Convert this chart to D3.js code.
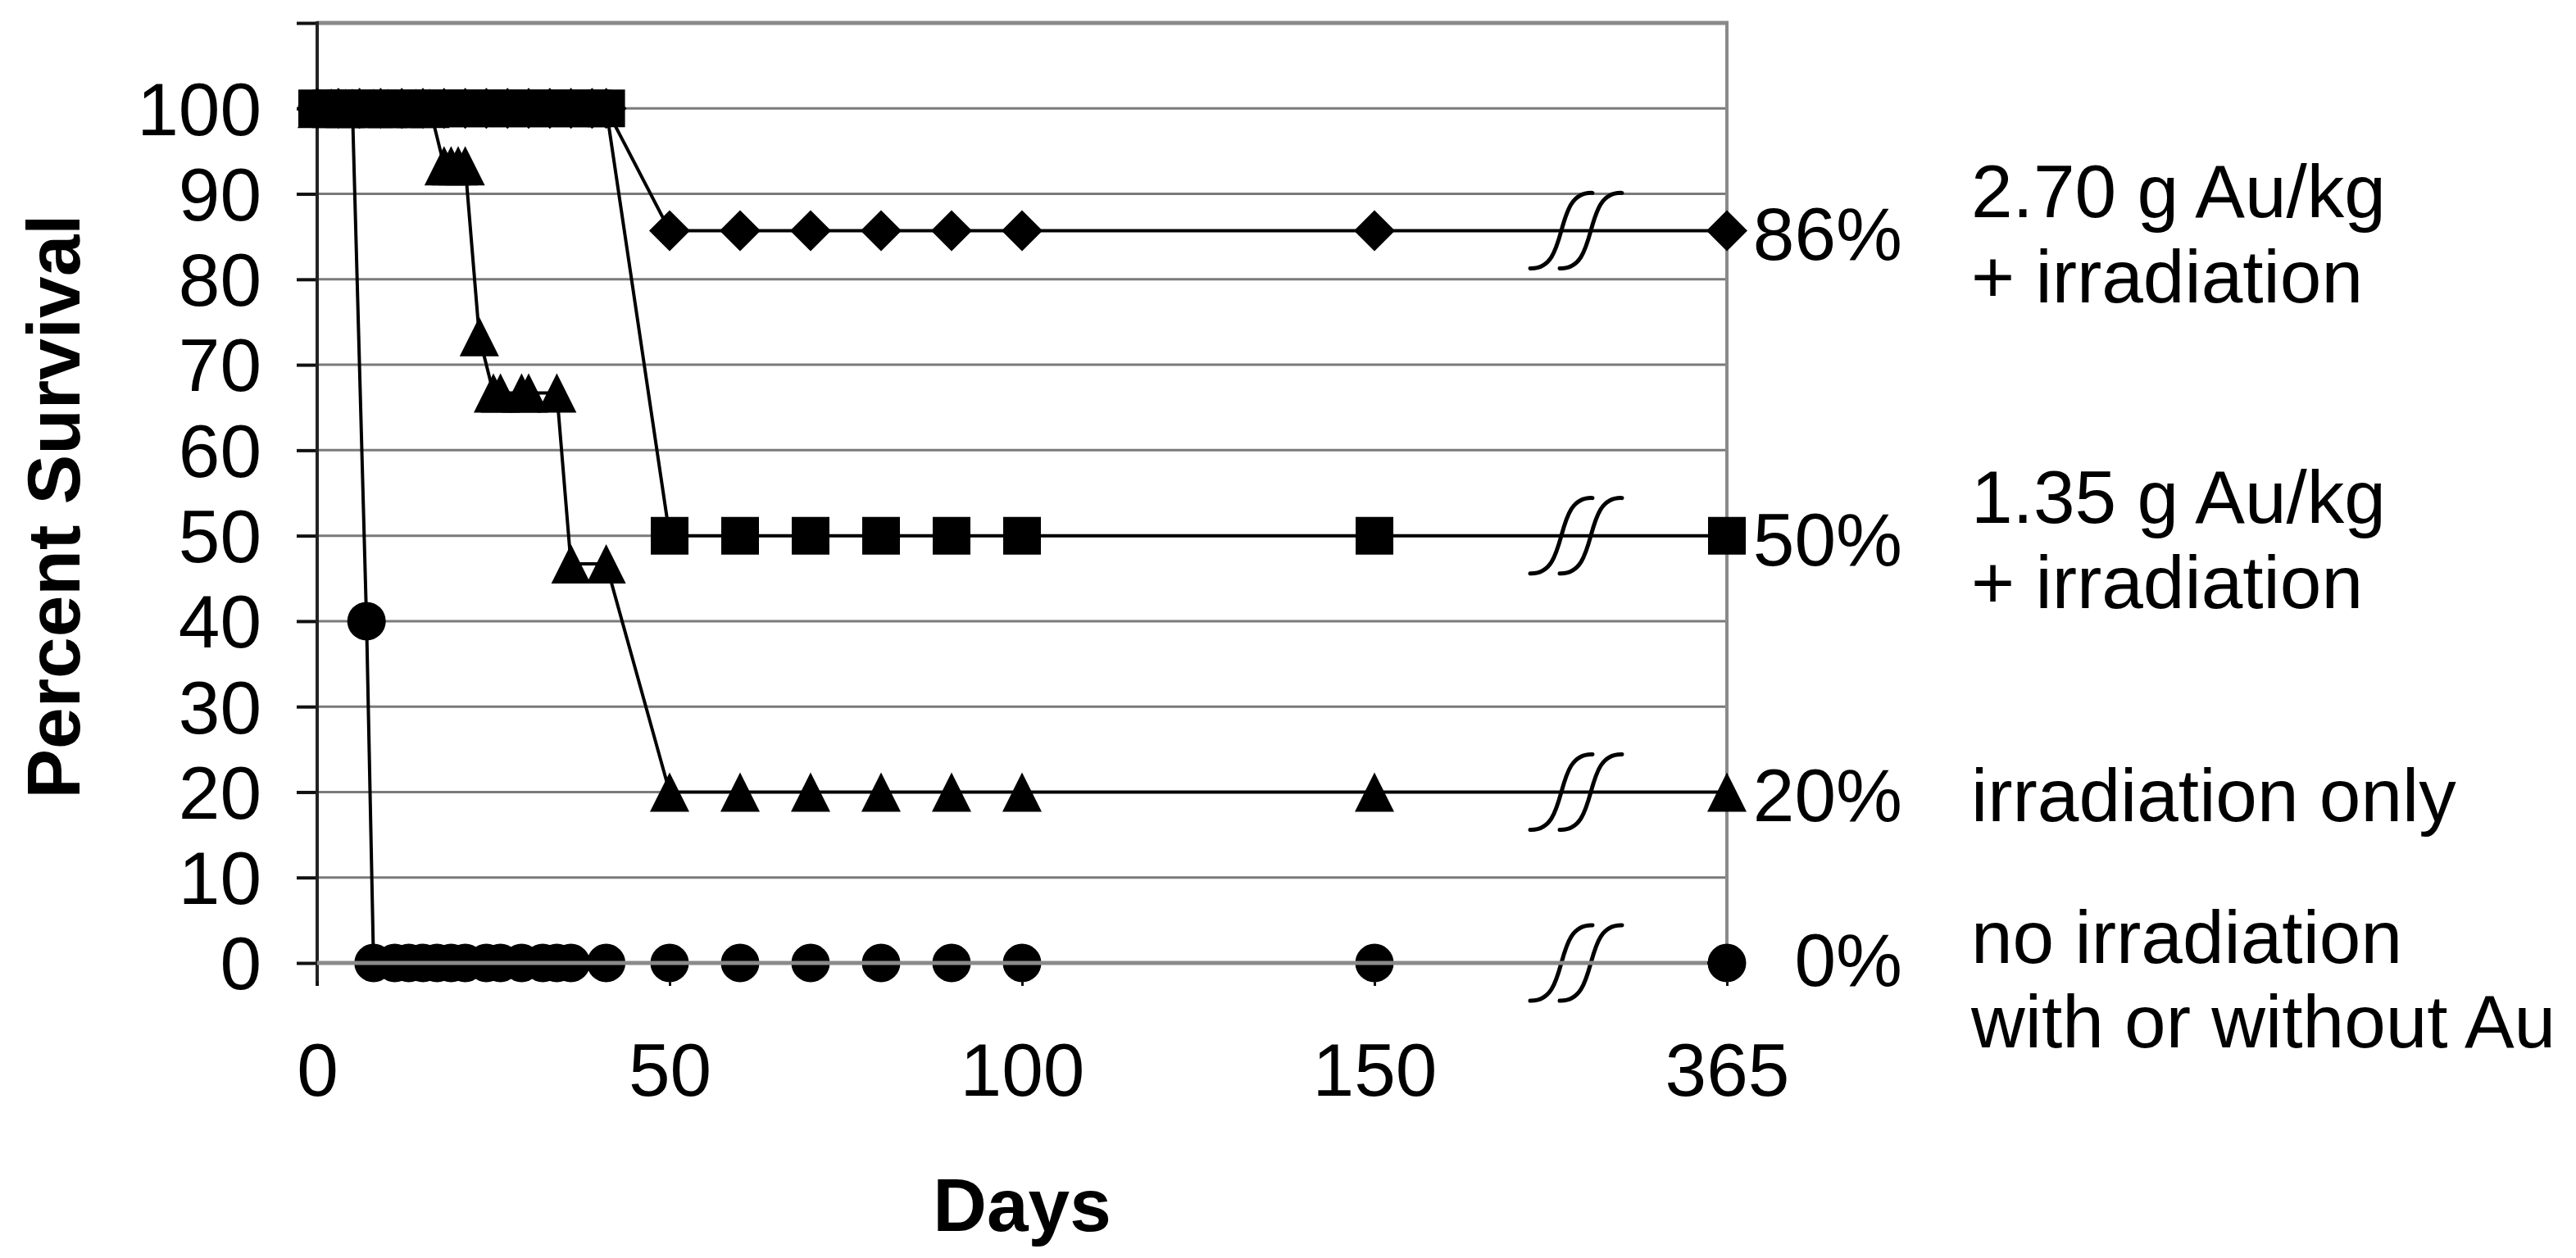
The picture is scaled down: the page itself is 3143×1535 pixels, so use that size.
<!DOCTYPE html>
<html>
<head>
<meta charset="utf-8">
<script src="https://cdn.jsdelivr.net/npm/d3@7"></script>
<style>
  html, body { margin: 0; padding: 0; background: #fff; }
  svg { display: block; font-family: "Liberation Sans", Arial, Helvetica, sans-serif; }
</style>
</head>
<body>
<svg id="chart" width="3143" height="1535"></svg>
<script>
// ---------------- DATA ----------------
const xTickValues = [0, 50, 100, 150, 365];
const xTickLabels = ["0", "50", "100", "150", "365"];
const yTickValues = [0, 10, 20, 30, 40, 50, 60, 70, 80, 90, 100];

// 2.70 g Au/kg + irradiation (diamonds)
const diamondDays = [0, 3, 6, 9, 12, 15, 18, 21, 24, 27, 30, 33, 36, 39, 41, 50, 60, 70, 80, 90, 100, 150, 365];
const diamondVals = [100, 100, 100, 100, 100, 100, 100, 100, 100, 100, 100, 100, 100, 100, 100, 85.7, 85.7, 85.7, 85.7, 85.7, 85.7, 85.7, 85.7];

// 1.35 g Au/kg + irradiation (squares)
const squareDays = [0, 3, 6, 9, 12, 15, 18, 21, 24, 27, 30, 33, 36, 39, 41, 50, 60, 70, 80, 90, 100, 150, 365];
const squareVals = [100, 100, 100, 100, 100, 100, 100, 100, 100, 100, 100, 100, 100, 100, 100, 50, 50, 50, 50, 50, 50, 50, 50];

// irradiation only (triangles)
const triangleDays = [0, 2, 4, 6, 8, 10, 12, 14, 16, 18, 19, 20, 21, 23, 25, 26, 29, 30, 34, 36, 41, 50, 60, 70, 80, 90, 100, 150, 365];
const triangleVals = [100, 100, 100, 100, 100, 100, 100, 100, 100, 93.3, 93.3, 93.3, 93.3, 73.3, 66.7, 66.7, 66.7, 66.7, 66.7, 46.7, 46.7, 20, 20, 20, 20, 20, 20, 20, 20];

// no irradiation with or without Au (circles)
const circleDays = [0, 2, 3, 5, 7, 8, 11, 13, 15, 17, 19, 21, 24, 26, 29, 32, 34, 36, 41, 50, 60, 70, 80, 90, 100, 150, 365];
const circleVals = [100, 100, 100, 100, 40, 0, 0, 0, 0, 0, 0, 0, 0, 0, 0, 0, 0, 0, 0, 0, 0, 0, 0, 0, 0, 0, 0];

// right-hand labels
const labelValues = [85.7, 50, 20, 0];
const pctLabels = ["86%", "50%", "20%", "0%"];
const groupLabels = [
  ["2.70 g Au/kg", "+ irradiation"],
  ["1.35 g Au/kg", "+ irradiation"],
  ["irradiation only"],
  ["no irradiation", "with or without Au"]
];
const breakDay = 273;   // position of the axis break marks (in axis units)

// ---------------- LAYOUT ----------------
const svg = d3.select("#chart");
const FS = 91;
const x = d3.scaleLinear().domain([0, 150, 365]).range([387, 1677, 2107]);
const y = d3.scaleLinear().domain([0, 110]).range([1175, 28]);
const xL = x.range()[0], xR = x.range()[2];

svg.append("rect").attr("width", 3143).attr("height", 1535).attr("fill", "#fff");

// gridlines
svg.append("g").selectAll("line").data(yTickValues.filter(v => v > 0)).join("line")
  .attr("x1", xL).attr("x2", xR)
  .attr("y1", d => y(d)).attr("y2", d => y(d))
  .attr("stroke", "#7a7a7a").attr("stroke-width", 3);
// top border (110)
svg.append("line").attr("x1", xL).attr("x2", xR + 2)
  .attr("y1", y(110)).attr("y2", y(110))
  .attr("stroke", "#8a8a8a").attr("stroke-width", 5);
// right border
svg.append("line").attr("x1", xR).attr("x2", xR)
  .attr("y1", y(110)).attr("y2", y(0))
  .attr("stroke", "#8a8a8a").attr("stroke-width", 4);

// y axis
const yAxis = d3.axisLeft(y).tickValues(yTickValues.concat([110])).tickSize(25).tickSizeOuter(0).tickPadding(43)
  .tickFormat(d => d === 110 ? "" : d3.format("d")(d));
const gy = svg.append("g").attr("transform", `translate(${xL},0)`).call(yAxis);
gy.select(".domain").remove();
gy.selectAll(".tick line").attr("stroke", "#111").attr("stroke-width", 4);
gy.selectAll(".tick text").attr("font-size", FS).attr("fill", "#000")
  .attr("font-family", "Liberation Sans, Arial, sans-serif").attr("dy", "0.35em");
svg.append("line").attr("x1", xL).attr("x2", xL).attr("y1", y(110) - 2).attr("y2", y(0) + 28)
  .attr("stroke", "#222").attr("stroke-width", 4);

// series
const series = [
  { days: diamondDays, vals: diamondVals, sym: "diamond" },
  { days: squareDays, vals: squareVals, sym: "square" },
  { days: triangleDays, vals: triangleVals, sym: "triangle" },
  { days: circleDays, vals: circleVals, sym: "circle" }
];
const line = d3.line().x(d => x(d[0])).y(d => y(d[1]));

const triSym = {
  draw(ctx, size) {
    const h = Math.sqrt(size);
    ctx.moveTo(0, -h / 2);
    ctx.lineTo(h / 2, h / 2);
    ctx.lineTo(-h / 2, h / 2);
    ctx.closePath();
  }
};
const symGen = {
  diamond: d3.symbol(d3.symbolSquare, 1250),
  square: d3.symbol(d3.symbolSquare, 2116),
  triangle: d3.symbol(triSym, 48 * 48),
  circle: d3.symbol(d3.symbolCircle, 1735)
};

series.forEach(s => {
  const pts = s.days.map((d, i) => [d, s.vals[i]]);
  svg.append("path").datum(pts).attr("d", line)
    .attr("fill", "none").attr("stroke", "#000").attr("stroke-width", 4).attr("stroke-linejoin", "round");
});

// break marks
const brk = svg.append("g");
labelValues.forEach(v => {
  const cx = x(breakDay), cy = y(v);
  [-18, 18].forEach(off => {
    const x0 = cx + off - 38, y0 = cy + 46, x1 = cx + off + 38, y1 = cy - 46;
    brk.append("path")
      .attr("d", `M${x0},${y0} C${x0 + 50},${y0 + 2} ${x1 - 50},${y1 - 2} ${x1},${y1}`)
      .attr("fill", "none").attr("stroke", "#000").attr("stroke-width", 5).attr("stroke-linecap", "round");
  });
});

// markers
series.forEach(s => {
  const pts = s.days.map((d, i) => [d, s.vals[i]]);
  svg.append("g").selectAll("path").data(pts).join("path")
    .attr("d", symGen[s.sym])
    .attr("transform", d => `translate(${x(d[0])},${y(d[1])})` + (s.sym === "diamond" ? " rotate(45)" : ""))
    .attr("fill", "#000");
});

// x axis (gray, over markers)
svg.append("line").attr("x1", xL).attr("x2", x(365) - 24)
  .attr("y1", y(0)).attr("y2", y(0))
  .attr("stroke", "#8a8a8a").attr("stroke-width", 5);

const xAxis = d3.axisBottom(x).tickValues(xTickValues).tickSize(28).tickSizeOuter(0).tickPadding(69)
  .tickFormat((d, i) => xTickLabels[i]);
const gx = svg.append("g").attr("transform", `translate(0,${y(0)})`).call(xAxis);
gx.select(".domain").remove();
gx.selectAll(".tick line").attr("stroke", "#111").attr("stroke-width", 3)
  .attr("y1", 22);
gx.selectAll(".tick text").attr("font-size", FS).attr("fill", "#000")
  .attr("font-family", "Liberation Sans, Arial, sans-serif");

// axis titles
svg.append("text").attr("x", (xL + xR) / 2).attr("y", 1502).attr("text-anchor", "middle")
  .attr("font-size", FS).attr("font-weight", "bold").text("Days");
svg.append("text").attr("transform", "translate(97,618) rotate(-90)").attr("text-anchor", "middle")
  .attr("font-size", FS).attr("font-weight", "bold").text("Percent Survival");

// right-hand labels
const pctOffset = [36, 36, 36, 28];
const lineOffsets = [[-52, 52], [-52, 52], [36], [0, 103]];
labelValues.forEach((v, i) => {
  svg.append("text").attr("x", 2321).attr("y", y(v) + pctOffset[i]).attr("text-anchor", "end")
    .attr("font-size", FS).text(pctLabels[i]);
  groupLabels[i].forEach((t, j) => {
    svg.append("text").attr("x", 2405).attr("y", y(v) + (lineOffsets[i][j] + (i < 2 ? 36 : 0)))
      .attr("font-size", FS).text(t);
  });
});
</script>
</body>
</html>
